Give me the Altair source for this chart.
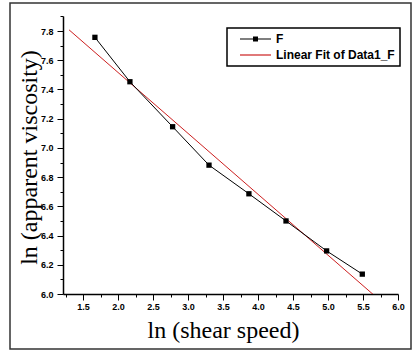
import altair as alt
import pandas as pd

# ---- data ----
shear = [1.67, 2.17, 2.78, 3.30, 3.87, 4.40, 4.98, 5.49]
visc = [7.757, 7.453, 7.145, 6.882, 6.686, 6.500, 6.295, 6.136]
series_names = ["F", "Linear Fit of Data1_F"]
x_major = [1.5, 2.0, 2.5, 3.0, 3.5, 4.0, 4.5, 5.0, 5.5, 6.0]
x_minor = [1.25, 1.75, 2.25, 2.75, 3.25, 3.75, 4.25, 4.75, 5.25, 5.75]
y_major = [6.0, 6.2, 6.4, 6.6, 6.8, 7.0, 7.2, 7.4, 7.6, 7.8]
y_minor = [6.1, 6.3, 6.5, 6.7, 6.9, 7.1, 7.3, 7.5, 7.7, 7.9]

df = pd.DataFrame({"x": shear, "y": visc, "series": "F"})

W, H = 335, 278
xs = alt.Scale(domain=[1.214, 6.0], nice=False, zero=False)
ys = alt.Scale(domain=[6.0, 7.903], nice=False, zero=False)

x_axis = alt.Axis(
    values=x_major, format=".1f", title="ln (shear speed)", tickSize=6,
    labelOverlap=False, labelPadding=2, labelFlush=False,
    titleBaseline="alphabetic", titleY=43, titleX=160, titleAlign="center",
)
y_axis = alt.Axis(
    values=y_major, format=".1f", title="ln (apparent viscosity)", tickSize=6,
    labelOverlap=False, labelPadding=4, labelFlush=False,
    titleAngle=270, titleX=-34, titleY=H / 2 + 2, titleAlign="center", titleBaseline="middle",
)
x_minor_axis = alt.Axis(values=x_minor, labels=False, domain=False, tickSize=3, title=None, orient="bottom")
y_minor_axis = alt.Axis(values=y_minor, labels=False, domain=False, tickSize=3, title=None, orient="left")

frame = alt.Chart(pd.DataFrame({"a": [0]})).mark_rect(
    fill="transparent", stroke="#333333", strokeWidth=1.5
).encode(x=alt.value(-53), x2=alt.value(348), y=alt.value(-13), y2=alt.value(333))

base = alt.Chart(df)

line = base.mark_line(color="black", strokeWidth=1).encode(
    x=alt.X("x:Q", scale=xs, axis=x_axis),
    y=alt.Y("y:Q", scale=ys, axis=y_axis),
)
minor = base.transform_filter("false").mark_point(opacity=0).encode(
    x=alt.X("x:Q", scale=xs, axis=x_minor_axis),
    y=alt.Y("y:Q", scale=ys, axis=y_minor_axis),
)
pts = base.mark_point(shape="square", filled=True, color="black", size=28, opacity=1).encode(
    x=alt.X("x:Q", scale=xs, axis=None), y=alt.Y("y:Q", scale=ys, axis=None)
)
fit = base.transform_regression("x", "y", extent=[1.3, 6.0]).mark_line(
    color="#cc1f1f", strokeWidth=1, clip=True
).encode(x=alt.X("x:Q", scale=xs, axis=None), y=alt.Y("y:Q", scale=ys, axis=None))

pathF = "M0.5,-0.15H8.25V0.15H0.5Z M3.75,-0.625H5V0.625H3.75Z"
pathFit = "M0.5,-0.15H8.25V0.15H0.5Z"
leg = alt.Legend(
    orient="none", legendX=164, legendY=12, title=None, strokeColor="black",
    fillColor="white", padding=5, symbolSize=64, symbolStrokeWidth=0,
    labelFont="Liberation Sans", labelFontWeight="bold", labelFontSize=12,
    labelColor="black", labelOffset=32, rowPadding=4,
)
legend_layer = base.transform_filter("false").mark_point(filled=True, opacity=1).encode(
    x=alt.X("x:Q", scale=xs, axis=None), y=alt.Y("y:Q", scale=ys, axis=None),
    color=alt.Color("series:N", scale=alt.Scale(domain=series_names, range=["#000000", "#cc1f1f"]), legend=leg),
    shape=alt.Shape("series:N", scale=alt.Scale(domain=series_names, range=[pathF, pathFit]), legend=leg),
)

chart = alt.layer(frame, fit, line, minor, pts, legend_layer).resolve_axis(
    x="independent", y="independent"
).properties(
    width=W, height=H,
    autosize=alt.AutoSizeParams(type="none"),
    padding={"left": 63, "top": 16, "right": 17, "bottom": 58},
    background="white",
).configure_view(stroke=None).configure_axis(
    domainColor="black", domainWidth=1.5, tickColor="black", tickWidth=1,
    labelFont="Liberation Sans", labelFontWeight="bold", labelFontSize=9, labelColor="black",
    titleFont="Liberation Serif", titleFontSize=24, titleFontWeight="normal", titleColor="black",
    grid=False,
).configure_legend(strokeWidth=1.5)

chart.save("out.html", embed_options={"renderer": "svg", "actions": False})
